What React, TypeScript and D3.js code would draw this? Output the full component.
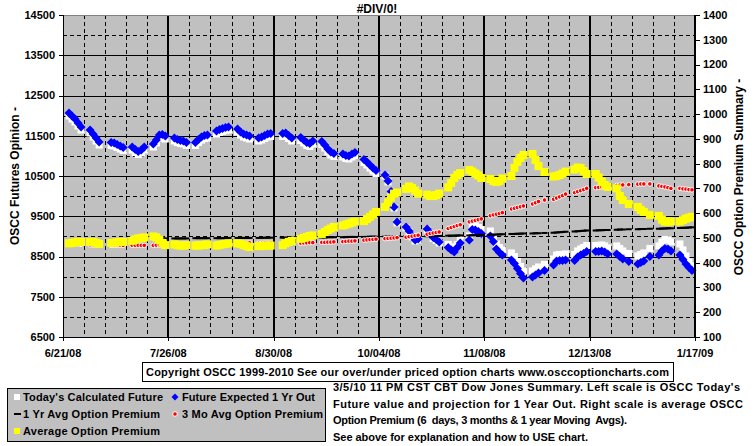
import React from "react";
import * as d3 from "d3";

// ---------- data ----------
const startDate = "2008-06-21";
const endDate = "2009-01-17";
const firstTradingDay = "2008-06-23";
const holidays = ["2008-07-04", "2008-09-01", "2008-11-27", "2008-12-25", "2009-01-01"];
const xTickLabels = ["6/21/08", "7/26/08", "8/30/08", "10/04/08", "11/08/08", "12/13/08", "1/17/09"];
const xTickDates = ["2008-06-21", "2008-07-26", "2008-08-30", "2008-10-04", "2008-11-08", "2008-12-13", "2009-01-17"];
const leftTicks = [6500, 7500, 8500, 9500, 10500, 11500, 12500, 13500, 14500];
const leftDashed = [7000, 8000, 9000, 10000, 11000, 12000, 13000, 14000];
const rightTicks = [100, 200, 300, 400, 500, 600, 700, 800, 900, 1000, 1100, 1200, 1300, 1400];

// Today's Calculated Future (left scale)
const todaysCalc = [
  11991, 11916, 11842, 11742, 11643,
  11568, 11469, 11369, 11270,
  11258, 11245, 11208, 11171, 11134,
  11146, 11084, 11034, 11071, 11146,
  11221, 11320, 11444, 11457, 11419,
  11370, 11332, 11308, 11295, 11258,
  11258, 11332, 11394, 11432, 11444,
  11544, 11581, 11606, 11631, 11643,
  11593, 11519, 11469, 11444, 11419,
  11370, 11395, 11432, 11469, 11482,
  11482, 11494, 11432, 11370,
  11382, 11320, 11258, 11233, 11295,
  11283, 11196, 11097, 11022, 10985,
  10972, 10935, 10923, 10972, 11010,
  10836, 10774, 10699, 10625, 10563,
  10501, 10352, 10091, 9706, 9333,
  9209, 9110, 8985, 8886, 8911,
  9159, 9060, 8948, 8898, 8836,
  8800, 8738, 8688, 8800, 8911,
  9010, 9271, 9258, 9221, 9171,
  9134, 8997, 8811, 8725, 8662,
  8588, 8501, 8377, 8253, 8141,
  8141, 8191, 8240, 8302,
  8439, 8538, 8551, 8551, 8563,
  8551, 8638, 8687, 8725, 8774,
  8774, 8774, 8787, 8762, 8712,
  8762, 8700, 8638, 8576,
  8514, 8551, 8588, 8700,
  8762, 8862, 8924, 8911, 8862,
  8812, 8663, 8514, 8365, 8265,
];

// Future Expected 1 Yr Out (left scale)
const futureExpected = [
  12066, 11991, 11917, 11817, 11718,
  11643, 11544, 11444, 11345,
  11333, 11320, 11283, 11246, 11209,
  11221, 11159, 11109, 11146, 11221,
  11296, 11395, 11519, 11532, 11494,
  11445, 11407, 11383, 11370, 11333,
  11333, 11407, 11469, 11507, 11519,
  11619, 11656, 11681, 11706, 11718,
  11668, 11594, 11544, 11519, 11494,
  11445, 11470, 11507, 11544, 11557,
  11557, 11569, 11507, 11445,
  11457, 11395, 11333, 11308, 11370,
  11358, 11271, 11172, 11097, 11060,
  11047, 11010, 10998, 11047, 11085,
  10911, 10849, 10774, 10700, 10638,
  10526, 10377, 10116, 9731, 9358,
  9234, 9135, 9010, 8911, 8936,
  9184, 9085, 8973, 8923, 8861,
  8725, 8663, 8613, 8725, 8836,
  8911, 9172, 9159, 9122, 9072,
  9010, 8873, 8687, 8601, 8538,
  8414, 8327, 8203, 8079, 7967,
  7992, 8042, 8091, 8153,
  8290, 8389, 8402, 8402, 8414,
  8402, 8489, 8538, 8576, 8625,
  8625, 8625, 8638, 8613, 8563,
  8563, 8501, 8439, 8377,
  8315, 8352, 8389, 8501,
  8538, 8638, 8700, 8687, 8638,
  8538, 8427, 8315, 8228, 8153,
];

// 1 Yr Avg Option Premium (right scale)
const oneYrAvg: (number | null)[] = [
  null, null, null, null, null,
  null, null, null, null,
  null, null, null, null, null,
  null, null, null, null, null,
  498, 498, 498, 498, 498,
  498, 498, 498, 498, 498,
  499, 499, 499, 499, 499,
  499, 499, 499, 499, 500,
  500, 500, 500, 500, 500,
  500, 500, 501, 501, 501,
  501, 501, 501, 501,
  501, 502, 502, 502, 502,
  502, 502, 503, 503, 503,
  503, 503, 504, 504, 504,
  504, 504, 505, 505, 505,
  505, 505, 505, 506, 506,
  506, 506, 507, 507, 507,
  507, 507, 508, 508, 508,
  509, 509, 509, 510, 510,
  510, 511, 511, 512, 512,
  513, 513, 514, 514, 515,
  516, 516, 517, 517, 518,
  518, 519, 519, 520,
  521, 522, 523, 524, 525,
  526, 527, 528, 529, 530,
  530, 531, 531, 532, 532,
  533, 534, 534, 535,
  535, 536, 536, 537,
  537, 538, 538, 539, 539,
  540, 541, 541, 542, 543,
];

// 3 Mo Avg Option Premium (right scale)
const threeMoAvg = [
  482, 480, 478, 476, 474,
  472, 471, 471, 470,
  470, 470, 470, 470, 470,
  470, 470, 470, 470, 470,
  470, 471, 471, 472, 472,
  474, 474, 475, 475, 476,
  476, 476, 476, 477, 477,
  476, 476, 477, 477, 477,
  478, 478, 479, 479, 480,
  478, 478, 479, 479, 479,
  480, 480, 480, 481,
  479, 480, 480, 481, 481,
  482, 482, 483, 483, 484,
  485, 486, 487, 487, 488,
  491, 492, 493, 494, 495,
  497, 498, 499, 500, 501,
  503, 505, 507, 509, 511,
  515, 518, 520, 522, 524,
  538, 542, 546, 550, 553,
  565, 568, 571, 574, 577,
  590, 593, 596, 599, 602,
  617, 620, 623, 626, 629,
  637, 642, 647, 653,
  656, 661, 666, 671, 677,
  683, 687, 691, 695, 700,
  703, 704, 705, 706, 707,
  712, 713, 714, 715,
  717, 718, 718, 718,
  710, 708, 706, 703, 700,
  700, 698, 697, 695, 694,
];

// Average Option Premium (right scale)
const avgPremium = [
  478, 480, 482, 484, 484,
  484, 484, 480, 476,
  480, 480, 482, 484, 484,
  488, 494, 498, 500, 502,
  506, 502, 492, 480, 471,
  474, 471, 469, 469, 471,
  469, 469, 471, 471, 474,
  469, 471, 474, 476, 478,
  478, 476, 471, 467, 463,
  467, 467, 469, 469, 469,
  471, 478, 484, 488,
  496, 500, 504, 508, 510,
  516, 524, 532, 538, 544,
  550, 554, 558, 562, 566,
  568, 576, 585, 595, 605,
  625, 643, 663, 679, 683,
  698, 708, 702, 691, 679,
  675, 669, 669, 673, 679,
  704, 722, 742, 754, 762,
  774, 768, 760, 752, 742,
  738, 730, 726, 730, 740,
  750, 783, 807, 823, 835,
  839, 815, 790, 766,
  748, 750, 754, 760, 768,
  776, 784, 782, 770, 758,
  758, 744, 728, 714, 706,
  700, 669, 653, 637,
  625, 613, 605, 593,
  589, 574, 566, 566, 566,
  566, 572, 578, 582, 585,
];

const title = "#DIV/0!";
const leftTitle = "OSCC Futures Opinion -";
const rightTitle = "OSCC Option Premium Summary -";
const copyright = "Copyright OSCC 1999-2010 See our over/under priced option charts www.osccoptioncharts.com";
const noteLines = [
  "3/5/10 11 PM CST CBT Dow Jones Summary. Left scale is OSCC Today's",
  "Future value and projection for 1 Year Out. Right scale is average OSCC",
  "Option Premium (6  days, 3 months & 1 year Moving  Avgs).",
  "See above for explanation and how to USE chart.",
];
const noteWidths = [407, 410, 294, 255];
const legendNames = [
  "Today's Calculated Future",
  "Future Expected 1 Yr Out",
  "1 Yr Avg Option Premium",
  "3 Mo Avg Option Premium",
  "Average Option Premium",
];
const legendWidths = [140, 133, 137, 141, 137];

// ---------- layout ----------
const W = 755;
const H = 446;
const PL = 63, PR = 695, PT = 15, PB = 337;
const FONT = "Arial, 'Liberation Sans', Helvetica, sans-serif";
const parse = d3.utcParse("%Y-%m-%d");

export default function App() {
  const x = d3.scaleUtc().domain([parse(startDate)!, parse(endDate)!]).range([PL, PR]);
  const yL = d3.scaleLinear().domain([6500, 14500]).range([PB, PT]);
  const yR = d3.scaleLinear().domain([100, 1400]).range([PB, PT]);

  const holidaySet = new Set(holidays);
  const fmt = d3.utcFormat("%Y-%m-%d");
  const days = d3.utcDay
    .range(parse(firstTradingDay)!, parse(endDate)!)
    .filter((d) => d.getUTCDay() >= 1 && d.getUTCDay() <= 5 && !holidaySet.has(fmt(d)));

  const labelDates = xTickDates.map((s) => parse(s)!);
  const labelSet = new Set(xTickDates);
  const weekly = d3.utcSaturday.range(parse(startDate)!, d3.utcDay.offset(parse(endDate)!, 1));
  const dashedV = weekly.filter((d) => !labelSet.has(fmt(d)));
  const solidV = labelDates.slice(1, -1);

  const bold = { fontFamily: FONT, fontWeight: 700, fontSize: 11 } as const;
  const diamond = "M0,-4.5L4.5,0L0,4.5L-4.5,0Z";

  return (
    <svg
      width={W}
      height={H}
      style={{ position: "absolute", left: 0, top: 0, background: "#fff" }}
    >
      {/* plot background */}
      <rect x={PL} y={PT} width={PR - PL} height={PB - PT} fill="#c0c0c0" />

      {/* horizontal grid */}
      {leftDashed.map((v) => (
        <line key={"hd" + v} x1={PL} x2={PR} y1={Math.round(yL(v)) + 0.5} y2={Math.round(yL(v)) + 0.5}
          stroke="#000" strokeWidth={1} strokeDasharray="4,3" />
      ))}
      {leftTicks.slice(1, -1).map((v) => (
        <line key={"hs" + v} x1={PL} x2={PR} y1={Math.round(yL(v)) + 0.5} y2={Math.round(yL(v)) + 0.5}
          stroke="#000" strokeWidth={1} />
      ))}
      {/* vertical grid */}
      {dashedV.map((d, i) => (
        <line key={"vd" + i} x1={Math.round(x(d)) + 0.5} x2={Math.round(x(d)) + 0.5} y1={PT} y2={PB}
          stroke="#000" strokeWidth={1} strokeDasharray="4,3" />
      ))}
      {solidV.map((d, i) => (
        <line key={"vs" + i} x1={Math.round(x(d))} x2={Math.round(x(d))} y1={PT} y2={PB}
          stroke="#000" strokeWidth={2} />
      ))}

      {/* top border */}
      <line x1={PL} x2={PR} y1={PT + 0.5} y2={PT + 0.5} stroke="#808080" strokeWidth={1} />

      {/* series: white squares */}
      {todaysCalc.map((v, i) => (
        <rect key={"w" + i} x={x(days[i]) - 3.5} y={yL(v) - 3.5} width={7} height={7} fill="#fff" />
      ))}
      {/* blue diamonds */}
      {futureExpected.map((v, i) => (
        <path key={"b" + i} d={diamond} transform={`translate(${x(days[i])},${yL(v)})`} fill="#0000ff" />
      ))}
      {/* black dashes */}
      {oneYrAvg.map((v, i) =>
        v == null ? null : (
          <rect key={"k" + i} x={x(days[i]) - 3} y={yR(v) - 1} width={6} height={2} fill="#000" />
        )
      )}
      {/* red dots */}
      {threeMoAvg.map((v, i) => (
        <circle key={"r" + i} cx={x(days[i])} cy={yR(v)} r={2.3} fill="#ff0000" stroke="#fff" strokeWidth={1} />
      ))}
      {/* yellow squares */}
      {avgPremium.map((v, i) => (
        <rect key={"y" + i} x={x(days[i]) - 4} y={yR(v) - 4} width={8} height={8} fill="#ffff00" />
      ))}

      {/* axes */}
      <line x1={PL + 0.5} x2={PL + 0.5} y1={PT} y2={PB} stroke="#000" strokeWidth={1} />
      <line x1={PR} x2={PR} y1={PT} y2={PB + 1} stroke="#000" strokeWidth={2} />
      <line x1={PL} x2={PR} y1={PB + 0.5} y2={PB + 0.5} stroke="#000" strokeWidth={1} />

      {leftTicks.map((v) => (
        <g key={"lt" + v}>
          <line x1={PL - 4} x2={PL} y1={Math.round(yL(v)) + 0.5} y2={Math.round(yL(v)) + 0.5} stroke="#000" />
          <text x={55} y={yL(v)} dy="0.36em" textAnchor="end" {...bold}>{v}</text>
        </g>
      ))}
      {rightTicks.map((v) => (
        <g key={"rt" + v}>
          <line x1={PR} x2={PR + 5} y1={Math.round(yR(v)) + 0.5} y2={Math.round(yR(v)) + 0.5} stroke="#000" />
          <text x={703} y={yR(v)} dy="0.36em" textAnchor="start" {...bold}>{v}</text>
        </g>
      ))}
      {labelDates.map((d, i) => (
        <g key={"xt" + i}>
          <line x1={Math.round(x(d)) + 0.5} x2={Math.round(x(d)) + 0.5} y1={PB} y2={PB + 4} stroke="#000" />
          <text x={x(d)} y={357} textAnchor="middle" {...bold}>{xTickLabels[i]}</text>
        </g>
      ))}

      {/* titles */}
      <text x={377} y={13} textAnchor="middle" {...bold} fontSize={12}>{title}</text>
      <text transform="translate(19,176) rotate(-90)" textAnchor="middle" {...bold} fontSize={12}>{leftTitle}</text>
      <text transform="translate(743,177) rotate(-90)" textAnchor="middle" {...bold} fontSize={12}>{rightTitle}</text>

      {/* copyright box */}
      <rect x={142.5} y={362.5} width={531} height={19} fill="#fff" stroke="#000" />
      <text x={146} y={376} textLength={523} lengthAdjust="spacing" {...bold}>{copyright}</text>

      {/* legend */}
      <rect x={7.5} y={388.5} width={318} height={53} fill="#c0c0c0" stroke="#000" />
      <rect x={14} y={394} width={6} height={6} fill="#fff" />
      <text x={23} y={401} textLength={legendWidths[0]} lengthAdjust="spacing" {...bold}>{legendNames[0]}</text>
      <path d="M0,-3.5L3.5,0L0,3.5L-3.5,0Z" transform="translate(175,397)" fill="#0000ff" />
      <text x={182} y={401} textLength={legendWidths[1]} lengthAdjust="spacing" {...bold}>{legendNames[1]}</text>
      <rect x={14} y={413} width={7} height={2} fill="#000" />
      <text x={23} y={418} textLength={legendWidths[2]} lengthAdjust="spacing" {...bold}>{legendNames[2]}</text>
      <circle cx={175} cy={414} r={2.3} fill="#ff0000" stroke="#fff" strokeWidth={1} />
      <text x={182} y={418} textLength={legendWidths[3]} lengthAdjust="spacing" {...bold}>{legendNames[3]}</text>
      <rect x={14} y={428} width={6} height={6} fill="#ffff00" />
      <text x={23} y={435} textLength={legendWidths[4]} lengthAdjust="spacing" {...bold}>{legendNames[4]}</text>

      {/* notes */}
      {noteLines.map((s, i) => (
        <text key={"n" + i} x={333} y={391 + i * 16.7} textLength={noteWidths[i]} lengthAdjust="spacing"
          style={{ whiteSpace: "pre" }} {...bold}>{s}</text>
      ))}
    </svg>
  );
}
